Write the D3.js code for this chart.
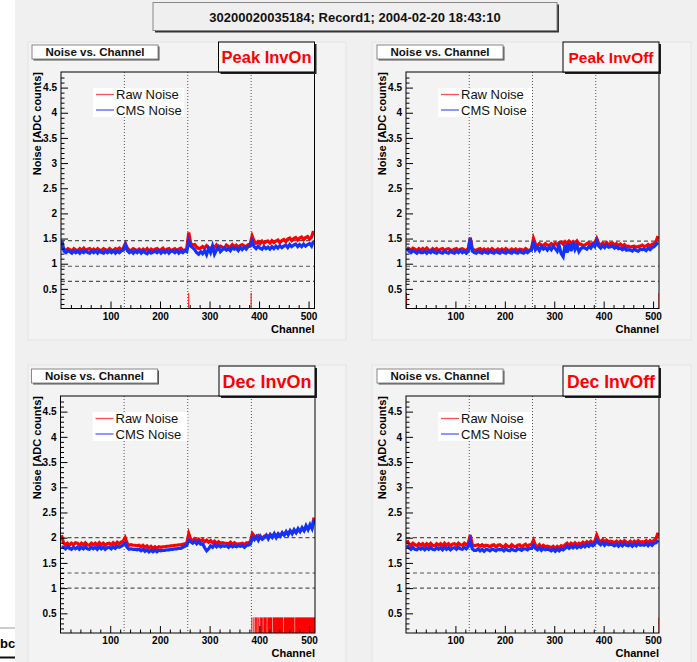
<!DOCTYPE html>
<html><head><meta charset="utf-8">
<script src="https://cdn.jsdelivr.net/npm/d3@7"></script>
<style>body{margin:0;background:#fff}svg{display:block}text{font-family:"Liberation Sans",Arial,Helvetica,sans-serif}</style>
</head><body><svg id="c" width="697" height="662"></svg>
<script>
// ---------- data ----------
const titleText = "30200020035184; Record1; 2004-02-20 18:43:10";
const panelTitle = "Noise vs. Channel";
const panelTags = ["Peak InvOn", "Peak InvOff", "Dec InvOn", "Dec InvOff"];
const seriesNames = ["Raw Noise", "CMS Noise"];
const xLabel = "Channel";
const yLabel = "Noise [ADC counts]";
const xDomain = [0, 512];
const yDomain = [0.11, 4.81];
const xMajorTicks = [100, 200, 300, 400, 500];
const yMajorTicks = [0.5, 1, 1.5, 2, 2.5, 3, 3.5, 4, 4.5];
const chipBoundaries = [128, 256, 384];
const binStart = d3.range(0, 512, 4);   // each value covers 4 channels
const flagLevel = 0.42;

const p1raw = [1.36,1.29,1.26,1.30,1.28,1.25,1.30,1.27, 1.26,1.30,1.27,1.31,1.26,1.29,1.30,1.26,
 1.29,1.25,1.30,1.27,1.26,1.30,1.28,1.26, 1.30,1.27,1.26,1.30,1.28,1.31,1.27,1.31,
 1.40,1.31,1.27,1.26,1.30,1.28,1.26,1.29, 1.25,1.29,1.26,1.30,1.25,1.29,1.26,1.29,
 1.30,1.26,1.28,1.31,1.26,1.29,1.30,1.26, 1.28,1.30,1.26,1.29,1.31,1.27,1.26,1.30,
 1.62,1.40,1.37,1.38,1.33,1.30,1.31,1.34, 1.31,1.36,1.32,1.30,1.35,1.32,1.37,1.31,
 1.35,1.33,1.31,1.37,1.34,1.33,1.38,1.34, 1.37,1.33,1.36,1.38,1.35,1.34,1.38,1.39,
 1.55,1.45,1.41,1.44,1.40,1.45,1.41,1.44, 1.45,1.41,1.46,1.42,1.45,1.47,1.42,1.46,
 1.48,1.44,1.49,1.51,1.46,1.50,1.52,1.47, 1.51,1.53,1.48,1.52,1.54,1.49,1.53,1.65];
const p1cms = [1.45,1.25,1.22,1.26,1.24,1.21,1.25,1.22, 1.25,1.21,1.25,1.22,1.26,1.22,1.21,1.25,
 1.22,1.26,1.21,1.25,1.22,1.21,1.25,1.22, 1.25,1.22,1.26,1.21,1.25,1.22,1.26,1.27,
 1.38,1.26,1.22,1.25,1.21,1.25,1.22,1.26, 1.21,1.25,1.22,1.20,1.25,1.21,1.23,1.25,
 1.22,1.26,1.21,1.25,1.22,1.26,1.21,1.25, 1.25,1.22,1.26,1.21,1.25,1.22,1.26,1.24,
 1.45,1.35,1.32,1.28,1.22,1.19,1.24,1.20, 1.26,1.18,1.30,1.22,1.35,1.19,1.27,1.33,
 1.24,1.28,1.31,1.27,1.30,1.26,1.32,1.29, 1.31,1.26,1.32,1.28,1.33,1.29,1.34,1.35,
 1.45,1.34,1.30,1.35,1.31,1.29,1.34,1.30, 1.33,1.29,1.34,1.30,1.35,1.31,1.36,1.32,
 1.35,1.37,1.32,1.38,1.34,1.37,1.39,1.34, 1.38,1.34,1.39,1.35,1.38,1.40,1.35,1.45];
const p2raw = [1.32,1.30,1.27,1.31,1.29,1.26,1.30,1.27, 1.30,1.27,1.31,1.27,1.26,1.30,1.27,1.30,
 1.26,1.29,1.30,1.26,1.29,1.30,1.27,1.26, 1.29,1.30,1.26,1.29,1.30,1.27,1.26,1.30,
 1.52,1.30,1.27,1.26,1.29,1.30,1.26,1.29, 1.26,1.29,1.26,1.30,1.27,1.26,1.29,1.26,
 1.29,1.26,1.30,1.27,1.26,1.29,1.26,1.29, 1.26,1.29,1.28,1.26,1.30,1.27,1.26,1.30,
 1.50,1.39,1.36,1.40,1.37,1.36,1.40,1.37, 1.36,1.40,1.37,1.41,1.37,1.42,1.43,1.39,
 1.44,1.40,1.45,1.41,1.44,1.40,1.45,1.39, 1.39,1.36,1.37,1.40,1.42,1.36,1.41,1.42,
 1.50,1.40,1.37,1.41,1.38,1.42,1.37,1.40, 1.41,1.37,1.40,1.36,1.39,1.35,1.38,1.34,
 1.35,1.33,1.34,1.35,1.33,1.34,1.35,1.37, 1.34,1.35,1.38,1.35,1.39,1.40,1.44,1.55];
const p2cms = [1.30,1.25,1.22,1.26,1.24,1.21,1.25,1.22, 1.22,1.25,1.21,1.25,1.22,1.26,1.22,1.21,
 1.25,1.22,1.21,1.25,1.22,1.21,1.25,1.22, 1.21,1.25,1.22,1.26,1.22,1.25,1.21,1.25,
 1.50,1.25,1.22,1.21,1.25,1.22,1.21,1.25, 1.22,1.21,1.25,1.22,1.21,1.25,1.22,1.21,
 1.25,1.22,1.21,1.25,1.22,1.21,1.25,1.22, 1.21,1.25,1.22,1.21,1.25,1.22,1.26,1.27,
 1.45,1.28,1.33,1.26,1.34,1.29,1.32,1.27, 1.33,1.28,1.35,1.30,1.25,1.36,1.20,1.14,
 1.38,1.22,1.40,1.25,1.42,1.28,1.36,1.24, 1.30,1.33,1.31,1.29,1.34,1.31,1.38,1.34,
 1.45,1.35,1.31,1.36,1.32,1.37,1.33,1.34, 1.35,1.31,1.34,1.30,1.31,1.28,1.31,1.27,
 1.28,1.27,1.25,1.29,1.26,1.25,1.29,1.28, 1.29,1.26,1.31,1.28,1.32,1.34,1.38,1.42];
const p3raw = [2.05,1.90,1.86,1.89,1.85,1.89,1.86,1.90, 1.89,1.85,1.89,1.86,1.90,1.86,1.85,1.89,
 1.86,1.89,1.85,1.90,1.86,1.89,1.85,1.88, 1.89,1.86,1.90,1.87,1.91,1.88,1.91,1.93,
 2.00,1.89,1.85,1.86,1.85,1.85,1.84,1.85, 1.82,1.85,1.81,1.84,1.80,1.83,1.79,1.82,
 1.79,1.82,1.81,1.82,1.82,1.83,1.83,1.84, 1.84,1.85,1.85,1.86,1.86,1.87,1.88,1.89,
 2.08,1.97,1.94,1.98,1.94,1.97,1.93,1.96, 1.92,1.95,1.91,1.94,1.90,1.93,1.89,1.92,
 1.89,1.90,1.89,1.89,1.88,1.91,1.87,1.90, 1.87,1.88,1.88,1.89,1.86,1.90,1.90,1.92,
 2.08,2.03,1.99,2.04,2.00,1.98,2.03,2.04, 2.02,2.06,2.01,2.07,2.03,2.08,2.04,2.09,
 2.06,2.11,2.07,2.13,2.09,2.14,2.10,2.16, 2.13,2.18,2.14,2.20,2.17,2.22,2.20,2.40];
const p3cms = [1.82,1.81,1.78,1.82,1.79,1.77,1.81,1.78, 1.81,1.77,1.81,1.78,1.82,1.78,1.77,1.81,
 1.78,1.81,1.77,1.82,1.78,1.81,1.77,1.80, 1.81,1.78,1.82,1.79,1.83,1.81,1.83,1.86,
 1.90,1.81,1.77,1.78,1.77,1.77,1.76,1.77, 1.74,1.77,1.73,1.76,1.72,1.75,1.72,1.75,
 1.72,1.75,1.74,1.75,1.75,1.76,1.76,1.77, 1.77,1.78,1.78,1.79,1.79,1.81,1.83,1.85,
 1.95,1.92,1.89,1.93,1.88,1.92,1.87,1.88, 1.80,1.74,1.78,1.84,1.81,1.86,1.82,1.85,
 1.82,1.84,1.83,1.84,1.81,1.85,1.82,1.84, 1.82,1.84,1.83,1.84,1.81,1.85,1.85,1.87,
 2.00,1.96,2.02,1.95,2.03,1.97,2.00,2.05, 1.98,2.06,2.01,2.08,2.00,2.07,2.03,2.10,
 2.05,2.12,2.06,2.14,2.08,2.16,2.10,2.18, 2.12,2.20,2.14,2.24,2.16,2.26,2.18,2.35];
const p4raw = [1.95,1.88,1.85,1.89,1.86,1.84,1.88,1.85, 1.88,1.84,1.88,1.85,1.89,1.85,1.84,1.88,
 1.85,1.88,1.84,1.89,1.85,1.88,1.84,1.87, 1.88,1.85,1.89,1.86,1.85,1.89,1.86,1.89,
 2.05,1.87,1.84,1.85,1.86,1.83,1.86,1.83, 1.85,1.84,1.82,1.85,1.86,1.82,1.85,1.86,
 1.83,1.82,1.86,1.83,1.82,1.86,1.83,1.82, 1.85,1.86,1.82,1.85,1.87,1.83,1.86,1.86,
 1.95,1.85,1.82,1.86,1.81,1.85,1.82,1.83, 1.82,1.80,1.83,1.79,1.83,1.80,1.84,1.82,
 1.86,1.89,1.85,1.89,1.86,1.90,1.86,1.89, 1.87,1.91,1.88,1.92,1.89,1.93,1.90,1.93,
 2.05,1.95,1.92,1.96,1.91,1.95,1.92,1.93, 1.92,1.90,1.93,1.89,1.93,1.90,1.94,1.91,
 1.90,1.93,1.89,1.93,1.90,1.94,1.91,1.92, 1.91,1.94,1.90,1.94,1.91,1.95,1.98,2.10];
const p4cms = [1.85,1.80,1.77,1.81,1.77,1.76,1.80,1.77, 1.80,1.76,1.80,1.77,1.81,1.77,1.76,1.80,
 1.77,1.80,1.76,1.81,1.77,1.80,1.76,1.79, 1.80,1.77,1.81,1.78,1.77,1.81,1.78,1.82,
 1.95,1.78,1.75,1.75,1.78,1.74,1.77,1.73, 1.77,1.76,1.74,1.77,1.76,1.74,1.77,1.76,
 1.77,1.74,1.78,1.75,1.74,1.78,1.75,1.74, 1.78,1.77,1.75,1.78,1.78,1.76,1.79,1.79,
 1.85,1.79,1.76,1.80,1.75,1.79,1.76,1.77, 1.76,1.74,1.77,1.73,1.77,1.74,1.78,1.76,
 1.79,1.83,1.79,1.83,1.80,1.84,1.80,1.83, 1.81,1.85,1.82,1.86,1.83,1.87,1.84,1.87,
 1.95,1.89,1.86,1.90,1.85,1.89,1.86,1.87, 1.86,1.84,1.87,1.83,1.87,1.84,1.88,1.85,
 1.84,1.87,1.83,1.87,1.84,1.88,1.85,1.86, 1.85,1.88,1.84,1.88,1.85,1.89,1.90,1.95];
// flagged channel runs [first, last]
const p1flags = [[257,257],[383,383],[511,511]];
const p2flags = [[0,0],[511,511]];
const p3flags = [[384,385],[388,388],[391,391],[393,393],[396,396],[398,399],[401,401],[403,406],
 [408,414],[416,425],[427,447],[449,470],[472,511]];
const p4flags = [[511,511]];
const p1dashed = [1.46, 0.95, 0.65];
const p2dashed = [1.45, 0.95, 0.65];
const p3dashed = [2.0, 1.3, 1.0];
const p4dashed = [2.0, 1.3, 1.0];

// ---------- layout ----------
const layouts = [
  {l:61, r:314.5, t:72, b:308.5, bg:[28,42,318,298], tagW:90, legW:91},
  {l:406, r:659, t:72, b:308.5, bg:[372,42,319,298], tagW:85, legW:94},
  {l:60.5, r:315, t:396, b:633, bg:[28,365,318,300], tagW:89, legW:95},
  {l:406, r:659, t:396, b:633, bg:[372,365,319,300], tagW:88, legW:94}
];
const panels = [
  {tag:panelTags[0], raw:p1raw, cms:p1cms, flags:p1flags, dashed:p1dashed},
  {tag:panelTags[1], raw:p2raw, cms:p2cms, flags:p2flags, dashed:p2dashed},
  {tag:panelTags[2], raw:p3raw, cms:p3cms, flags:p3flags, dashed:p3dashed},
  {tag:panelTags[3], raw:p4raw, cms:p4cms, flags:p4flags, dashed:p4dashed}
];
const RED = "#ff0000", BLUE = "#1233ff";

const svg = d3.select("#c");
svg.append("rect").attr("width",697).attr("height",662).attr("fill","#f0f0f0");
svg.append("rect").attr("width",15).attr("height",662).attr("fill","#ffffff");

function shadowBox(g, x, y, w, h, fill, stroke, shadow, sw) {
  g.append("rect").attr("x",x+sw).attr("y",y+sw).attr("width",w).attr("height",h).attr("fill",shadow);
  g.append("rect").attr("x",x).attr("y",y).attr("width",w).attr("height",h)
    .attr("fill",fill).attr("stroke",stroke).attr("stroke-width",1);
}

// stray fragment at bottom left
svg.append("line").attr("x1",0).attr("x2",15).attr("y1",628).attr("y2",628).attr("stroke","#999");
svg.append("line").attr("x1",0).attr("x2",15).attr("y1",657.5).attr("y2",657.5).attr("stroke","#111").attr("stroke-width",2);
svg.append("text").attr("x",0).attr("y",648).attr("font-size",13).attr("font-weight","bold").text("bc");

// title
shadowBox(svg, 153, 2.5, 404, 28, "#efefef", "#888", "#333", 2);
svg.append("text").attr("x",355).attr("y",17).attr("text-anchor","middle").attr("dominant-baseline","central")
  .attr("font-size",13).attr("font-weight","bold").attr("fill","#111").text(titleText);

panels.forEach((P, i) => {
  const L = layouts[i];
  const g = svg.append("g");
  g.append("rect").attr("x",L.bg[0]).attr("y",L.bg[1]).attr("width",L.bg[2]).attr("height",L.bg[3])
    .attr("fill","#f3f3f3").attr("stroke","#e3e3e3");
  const x = d3.scaleLinear().domain(xDomain).range([L.l, L.r]);
  const y = d3.scaleLinear().domain(yDomain).range([L.b, L.t]);
  const cid = "clip"+i;
  g.append("clipPath").attr("id",cid).append("rect").attr("x",L.l).attr("y",L.t).attr("width",L.r-L.l).attr("height",L.b-L.t);
  const inner = g.append("g").attr("clip-path",`url(#${cid})`);

  inner.selectAll(".vg").data(chipBoundaries).join("line")
    .attr("x1",d=>x(d)).attr("x2",d=>x(d)).attr("y1",L.t).attr("y2",L.b)
    .attr("stroke","#555").attr("stroke-width",1).attr("stroke-dasharray","1,2");
  inner.selectAll(".hg").data(P.dashed).join("line")
    .attr("x1",L.l).attr("x2",L.r).attr("y1",d=>y(d)).attr("y2",d=>y(d))
    .attr("stroke","#555").attr("stroke-width",1.2).attr("stroke-dasharray","4,3");
  inner.selectAll(".fl").data(P.flags).join("rect")
    .attr("x",d=>x(d[0])).attr("width",d=>Math.max(1, x(d[1]+1)-x(d[0])))
    .attr("y",y(flagLevel)).attr("height",L.b - y(flagLevel)).attr("fill",RED);
  const line = d3.line().x((d,k)=>x(binStart[k]+2)).y(d=>y(d));
  inner.append("path").attr("d",line(P.raw)).attr("fill","none").attr("stroke",RED).attr("stroke-width",3.2).attr("stroke-linejoin","miter");
  inner.append("path").attr("d",line(P.cms)).attr("fill","none").attr("stroke",BLUE).attr("stroke-width",3.2).attr("stroke-linejoin","miter");

  const xa = g.append("g").attr("transform",`translate(0,${L.b})`)
    .call(d3.axisBottom(x).tickValues(xMajorTicks).tickSizeInner(-7).tickSizeOuter(0).tickPadding(4).tickFormat(d=>String(d)));
  const xm = g.append("g").attr("transform",`translate(0,${L.b})`)
    .call(d3.axisBottom(x).tickValues(d3.range(20,512,20).filter(v=>v%100)).tickSizeInner(-3.5).tickSizeOuter(0).tickFormat(""));
  const ya = g.append("g").attr("transform",`translate(${L.l},0)`)
    .call(d3.axisLeft(y).tickValues(yMajorTicks).tickSizeInner(-7).tickSizeOuter(0).tickPadding(4).tickFormat(d=>String(d)));
  const ym = g.append("g").attr("transform",`translate(${L.l},0)`)
    .call(d3.axisLeft(y).tickValues(d3.range(2,48).map(v=>v/10).filter(v=>Math.abs(v*2-Math.round(v*2))>1e-6)).tickSizeInner(-3.5).tickSizeOuter(0).tickFormat(""));
  [xa,xm,ya,ym].forEach(a=>{
    a.select(".domain").remove();
    a.selectAll("line").attr("stroke","#000");
    a.selectAll("text").attr("font-family",null).attr("font-size",10).attr("font-weight","bold").attr("fill","#000");
  });

  g.append("rect").attr("x",L.l).attr("y",L.t).attr("width",L.r-L.l).attr("height",L.b-L.t)
    .attr("fill","none").attr("stroke","#000").attr("stroke-width",1);

  g.append("text").attr("x",L.r).attr("y",L.b+24).attr("text-anchor","end")
    .attr("font-size",11).attr("font-weight","bold").text(xLabel);
  g.append("text").attr("transform",`translate(${L.l-20},${L.t}) rotate(-90)`).attr("text-anchor","end")
    .attr("font-size",11).attr("font-weight","bold").text(yLabel);

  shadowBox(g, L.l-29, L.t-27, 126, 14, "#ffffff", "#888", "#555", 1.5);
  g.append("text").attr("x",L.l-29+63).attr("y",L.t-20).attr("text-anchor","middle").attr("dominant-baseline","central")
    .attr("font-size",11.5).attr("font-weight","bold").attr("fill","#111").text(panelTitle);

  shadowBox(g, L.r-96, L.t-30, 96, 30, "#f7f7f7", "#000", "#222", 2);
  const tt = g.append("text").attr("x",L.r-48).attr("y",L.t-14.5).attr("text-anchor","middle").attr("dominant-baseline","central")
    .attr("font-size",16).attr("font-weight","bold").attr("fill",RED).text(P.tag);
  const w = tt.node().getComputedTextLength();
  tt.attr("font-size", 16*L.tagW/w);

  const lx = L.l+32, ly = L.t+16;
  g.append("rect").attr("x",lx).attr("y",ly).attr("width",L.legW).attr("height",29).attr("fill","#ffffff");
  [[seriesNames[0],"#ff5050"],[seriesNames[1],"#5060ff"]].forEach((s,k)=>{
    const yy = ly+6.5+k*15.5;
    g.append("line").attr("x1",lx+3).attr("x2",lx+21).attr("y1",yy).attr("y2",yy).attr("stroke",s[1]).attr("stroke-width",1.3);
    g.append("text").attr("x",lx+23).attr("y",yy).attr("dominant-baseline","central")
      .attr("font-size",13).attr("fill","#111").text(s[0]);
  });
});
</script></body></html>
